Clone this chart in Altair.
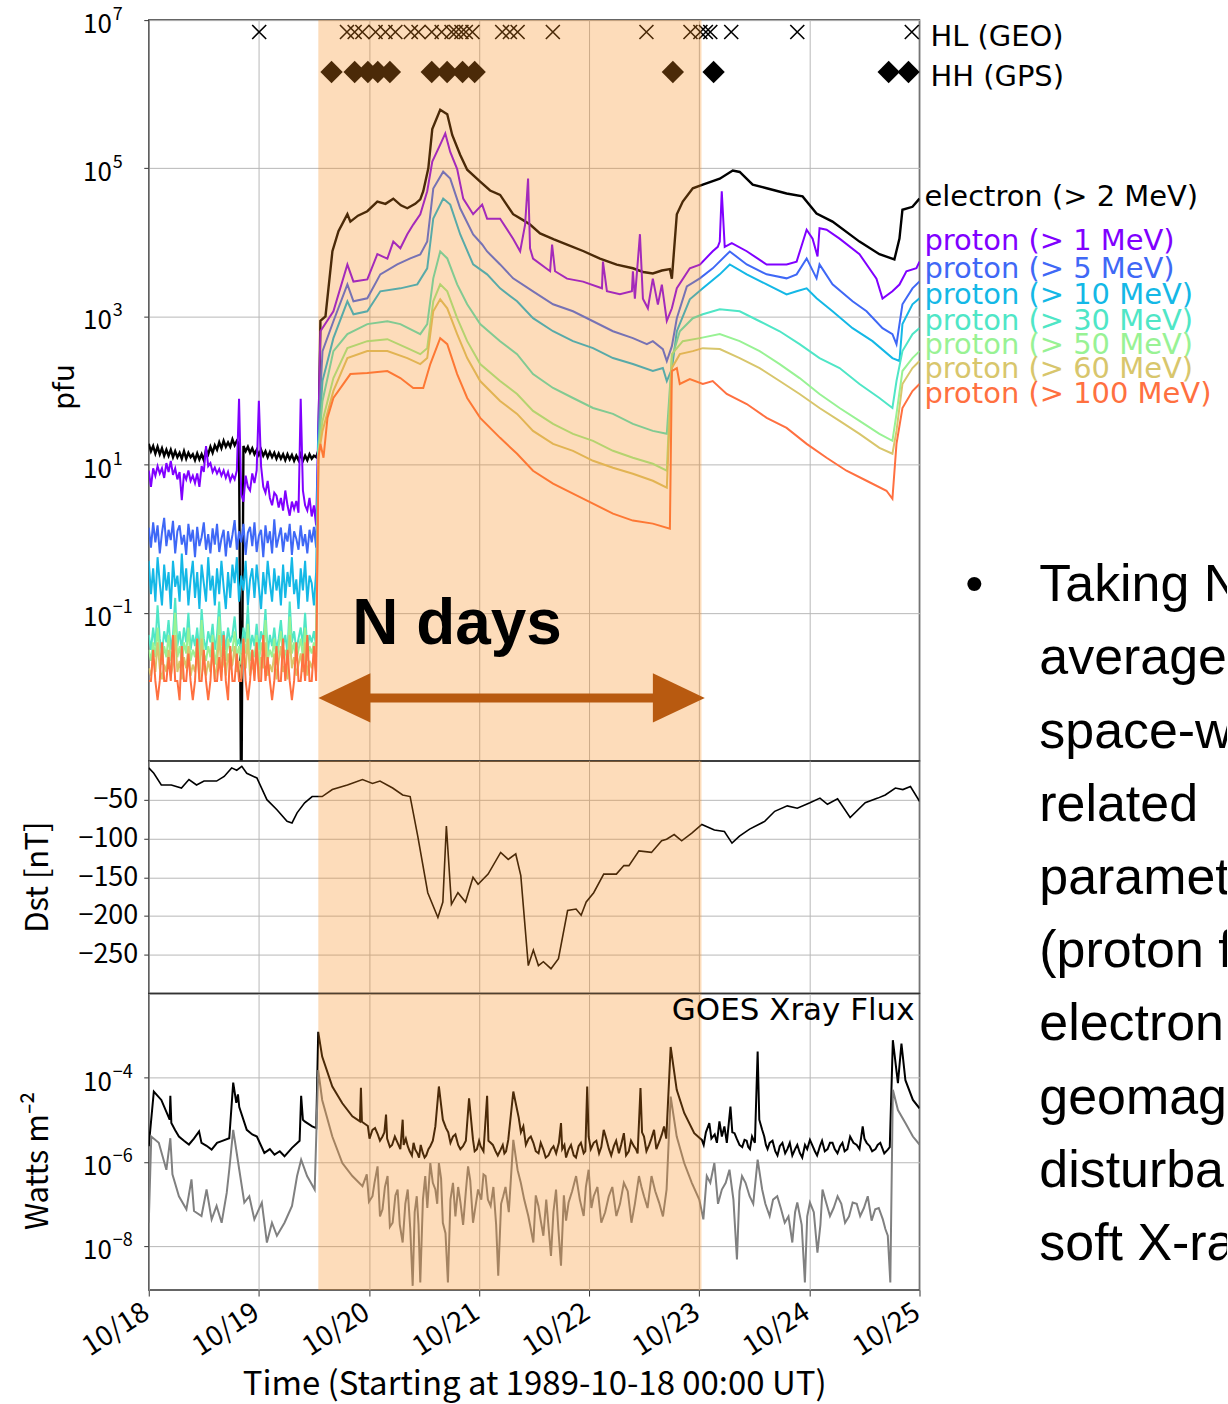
import altair as alt
import pandas as pd

# ----------------------------------------------------------------------
# Time base: days since 1989-10-18 00:00 UT
# ----------------------------------------------------------------------
day_ticks = [0, 1, 2, 3, 4, 5, 6, 7]
day_labels = ["10/18", "10/19", "10/20", "10/21", "10/22", "10/23", "10/24", "10/25"]
window_days = [1.54, 5.02]          # highlighted N-day interval
arrow_tips = [1.541, 5.05]          # ends of the double arrow
arrow_shaft = [2.0, 4.6]
arrow_level = -2.15                 # log10(pfu)
ndays_anchor = [2.8, -1.17]         # day, log10(pfu)

# ----------------------------------------------------------------------
# Particle fluxes, log10(pfu)
# ----------------------------------------------------------------------
quiet_days = [0.00, 0.02, 0.04, 0.06, 0.08, 0.10, 0.12, 0.14, 0.16, 0.18,
              0.20, 0.22, 0.24, 0.26, 0.28, 0.30, 0.32, 0.34, 0.36, 0.38,
              0.40, 0.42, 0.44, 0.46, 0.48, 0.50, 0.52, 0.54, 0.56, 0.58,
              0.60, 0.62, 0.64, 0.66, 0.68, 0.70, 0.72, 0.74, 0.76, 0.78,
              0.80, 0.82, 0.84, 0.86, 0.88, 0.90, 0.92, 0.94, 0.96, 0.98,
              1.00, 1.02, 1.04, 1.06, 1.08, 1.10, 1.12, 1.14, 1.16, 1.18,
              1.20, 1.22, 1.24, 1.26, 1.28, 1.30, 1.32, 1.34, 1.36, 1.38,
              1.40, 1.42, 1.44, 1.46, 1.48, 1.50, 1.52]

electron_quiet = [1.28, 1.18, 1.25, 1.15, 1.24, 1.14, 1.22, 1.12, 1.20, 1.12,
                  1.20, 1.10, 1.18, 1.10, 1.16, 1.08, 1.18, 1.08, 1.16, 1.10,
                  1.14, 1.06, 1.15, 1.07, 1.14, 1.06, 1.20, 1.14, 1.24, 1.16,
                  1.26, 1.20, 1.30, 1.22, 1.32, 1.24, 1.30, 1.24, 1.34, 1.26,
                  1.32, 1.28, -4.00, 1.25, 1.18, 1.24, 1.16, 1.22, 1.14, 1.20,
                  1.13, 1.20, 1.12, 1.18, 1.10, 1.17, 1.10, 1.16, 1.08, 1.15,
                  1.08, 1.14, 1.06, 1.14, 1.07, 1.13, 1.05, 1.12, 1.06, 1.14,
                  1.05, 1.12, 1.06, 1.14, 1.08, 1.12, 1.10]
electron_event = [
    (1.541, 1.19), (1.559, 2.94), (1.605, 3.00), (1.668, 3.88), (1.723, 4.15), (1.804, 4.38),
    (1.831, 4.28), (1.900, 4.36), (1.985, 4.42), (2.076, 4.55), (2.150, 4.52), (2.221, 4.59),
    (2.290, 4.50), (2.348, 4.46), (2.420, 4.52), (2.466, 4.58), (2.493, 4.69), (2.539, 5.00),
    (2.575, 5.53), (2.647, 5.79), (2.711, 5.73), (2.756, 5.45), (2.829, 5.18), (2.892, 4.98),
    (3.010, 4.82), (3.100, 4.70), (3.191, 4.64), (3.309, 4.38), (3.400, 4.30), (3.463, 4.24),
    (3.554, 4.12), (3.680, 4.04), (3.799, 3.97), (3.950, 3.88), (4.098, 3.78), (4.250, 3.70),
    (4.397, 3.65), (4.490, 3.60), (4.578, 3.58), (4.660, 3.62), (4.733, 3.64), (4.751, 3.51),
    (4.796, 4.38), (4.850, 4.55), (4.941, 4.73), (5.032, 4.78), (5.186, 4.86), (5.304, 4.97),
    (5.367, 4.95), (5.485, 4.78), (5.612, 4.73), (5.793, 4.66), (5.938, 4.62), (6.065, 4.39),
    (6.210, 4.28), (6.455, 4.01), (6.636, 3.84), (6.772, 3.77), (6.818, 4.05), (6.845, 4.44),
    (6.936, 4.48), (7.000, 4.59)]

proton_1_quiet = [0.92, 0.70, 0.95, 0.85, 0.98, 0.88, 0.95, 0.82, 1.02, 0.90,
                  1.05, 0.86, 0.95, 0.80, 0.90, 0.52, 0.88, 0.80, 0.92, 0.78,
                  0.85, 0.75, 0.88, 0.70, 0.98, 0.90, 1.25, 0.98, 1.02, 0.90,
                  0.96, 0.88, 0.94, 0.85, 0.92, 0.82, 0.90, 0.78, 0.86, 0.80,
                  0.92, 1.89, 0.60, 0.50, 0.85, 0.70, 0.65, 0.88, 0.75, 0.92,
                  1.86, 0.98, 0.70, 0.62, 0.78, 0.55, 0.45, 0.62, 0.58, 0.42,
                  0.55, 0.38, 0.65, 0.45, 0.31, 0.50, 0.40, 0.51, 0.35, 1.89,
                  0.65, 0.45, 0.38, 0.55, 0.30, 0.45, 0.18]
proton_1_event = [
    (1.541, 1.55), (1.559, 2.80), (1.677, 3.07), (1.804, 3.70), (1.859, 3.47), (1.985, 3.50),
    (2.076, 3.84), (2.167, 3.78), (2.221, 4.01), (2.285, 3.92), (2.348, 4.11), (2.402, 4.24),
    (2.466, 4.38), (2.529, 4.69), (2.575, 5.09), (2.647, 5.32), (2.693, 5.47), (2.738, 5.22),
    (2.801, 4.99), (2.856, 4.59), (2.946, 4.38), (3.028, 4.51), (3.073, 4.32), (3.191, 4.32),
    (3.309, 4.05), (3.373, 3.88), (3.418, 4.24), (3.445, 4.86), (3.463, 3.92), (3.490, 3.78),
    (3.645, 3.61), (3.663, 3.97), (3.690, 3.61), (3.799, 3.51), (3.944, 3.47), (4.116, 3.38),
    (4.125, 3.74), (4.161, 3.34), (4.279, 3.30), (4.388, 3.34), (4.397, 3.61), (4.415, 3.24),
    (4.461, 4.11), (4.488, 3.24), (4.533, 3.11), (4.578, 3.51), (4.624, 3.16), (4.660, 3.43),
    (4.705, 2.94), (4.751, 3.11), (4.796, 3.38), (4.914, 3.65), (5.005, 3.70), (5.122, 3.88),
    (5.168, 3.94), (5.186, 4.01), (5.204, 4.69), (5.231, 3.94), (5.295, 3.99), (5.431, 3.88),
    (5.612, 3.70), (5.793, 3.70), (5.884, 3.74), (5.975, 4.17), (6.029, 4.05), (6.074, 3.81),
    (6.092, 4.19), (6.156, 4.17), (6.274, 4.05), (6.455, 3.84), (6.609, 3.51), (6.664, 3.24),
    (6.754, 3.34), (6.818, 3.43), (6.881, 3.61), (6.972, 3.65), (7.000, 3.74)]

proton_5_quiet = [0.15, -0.12, 0.22, -0.05, 0.18, -0.20, 0.08, 0.28, -0.10, 0.12,
                  -0.02, 0.24, -0.20, 0.10, 0.18, -0.08, 0.05, -0.22, 0.20, -0.04,
                  0.12, -0.25, 0.16, -0.10, 0.02, 0.22, -0.15, 0.06, -0.20, 0.14,
                  -0.08, 0.20, -0.18, 0.00, 0.12, -0.24, 0.10, -0.12, 0.05, 0.25,
                  -0.15, 0.10, -0.05, 0.20, -0.22, 0.08, 0.16, -0.10, 0.22, -0.18,
                  0.04, 0.12, -0.25, 0.18, -0.06, 0.10, -0.20, 0.26, -0.12, 0.02,
                  0.15, -0.18, 0.08, -0.04, 0.20, -0.22, 0.10, 0.00, -0.15, 0.18,
                  -0.10, 0.06, -0.20, 0.12, -0.05, 0.16, -0.12]
proton_5_event = [
    (1.541, 1.455), (1.578, 2.53), (1.677, 2.935), (1.804, 3.433), (1.859, 3.204), (1.985, 3.245),
    (2.103, 3.568), (2.257, 3.702), (2.375, 3.783), (2.466, 3.837), (2.529, 4.012), (2.584, 4.726),
    (2.674, 4.954), (2.738, 4.86), (2.829, 4.456), (2.946, 4.106), (3.028, 3.971), (3.073, 3.877),
    (3.191, 3.702), (3.309, 3.514), (3.490, 3.339), (3.672, 3.164), (3.853, 3.07), (4.035, 2.935),
    (4.216, 2.80), (4.397, 2.707), (4.524, 2.626), (4.578, 2.666), (4.669, 2.559), (4.705, 2.398),
    (4.751, 2.599), (4.796, 2.976), (4.887, 3.406), (5.005, 3.514), (5.122, 3.649), (5.277, 3.877),
    (5.431, 3.702), (5.612, 3.568), (5.793, 3.514), (5.884, 3.568), (5.975, 3.783), (6.065, 3.514),
    (6.092, 3.702), (6.210, 3.433), (6.392, 3.204), (6.519, 3.07), (6.664, 2.841), (6.754, 2.761),
    (6.791, 2.626), (6.845, 3.164), (6.936, 3.379), (7.000, 3.473)]

proton_10_quiet = [-0.30, -0.75, -0.40, -0.85, -0.25, -0.60, -0.90, -0.35, -0.70, -0.45,
                   -0.95, -0.30, -0.65, -0.50, -0.85, -0.20, -0.70, -0.40, -0.90, -0.55,
                   -0.30, -0.80, -0.45, -0.95, -0.35, -0.60, -0.85, -0.25, -0.70, -0.50,
                   -0.90, -0.40, -0.75, -0.30, -0.65, -0.95, -0.45, -0.80, -0.35, -0.60,
                   -0.25, -0.85, -0.50, -0.70, -0.30, -0.90, -0.55, -0.40, -0.80, -0.35,
                   -0.65, -0.95, -0.45, -0.75, -0.30, -0.60, -0.85, -0.40, -0.70, -0.50,
                   -0.90, -0.35, -0.80, -0.45, -0.65, -0.25, -0.75, -0.55, -0.95, -0.40,
                   -0.70, -0.30, -0.85, -0.50, -0.60, -0.90, -0.45]
proton_10_event = [
    (1.541, 1.32), (1.578, 2.13), (1.677, 2.707), (1.804, 3.204), (1.859, 3.029), (1.985, 3.07),
    (2.103, 3.339), (2.285, 3.379), (2.439, 3.433), (2.529, 3.649), (2.584, 4.322), (2.674, 4.591),
    (2.738, 4.51), (2.829, 4.106), (2.946, 3.702), (3.073, 3.568), (3.191, 3.379), (3.345, 3.204),
    (3.490, 2.976), (3.672, 2.80), (3.853, 2.666), (4.035, 2.572), (4.216, 2.438), (4.397, 2.357),
    (4.578, 2.263), (4.669, 2.303), (4.705, 2.128), (4.751, 2.29), (4.796, 2.80), (4.914, 3.231),
    (5.032, 3.379), (5.186, 3.568), (5.277, 3.702), (5.431, 3.568), (5.612, 3.433), (5.793, 3.298),
    (5.884, 3.339), (5.975, 3.379), (6.065, 3.245), (6.210, 3.07), (6.392, 2.841), (6.573, 2.666),
    (6.754, 2.438), (6.818, 2.398), (6.845, 2.896), (6.936, 3.164), (7.000, 3.245)]

proton_30_quiet = [-1.30, -1.50, -1.20, -1.45, -0.90, -1.35, -1.55, -1.25, -1.40, -1.10,
                   -1.50, -1.30, -0.80, -1.45, -1.25, -1.50, -1.20, -1.40, -1.00, -1.50,
                   -1.30, -1.45, -1.20, -1.55, -0.95, -1.35, -1.50, -1.25, -1.40, -1.15,
                   -1.50, -1.30, -0.85, -1.45, -1.25, -1.50, -1.20, -1.40, -1.30, -1.05,
                   -1.45, -1.35, -1.55, -1.20, -1.40, -0.90, -1.50, -1.30, -1.45, -1.15,
                   -1.50, -1.25, -1.40, -0.95, -1.55, -1.30, -1.45, -1.20, -1.50, -1.35,
                   -1.10, -1.45, -1.30, -1.55, -0.85, -1.40, -1.25, -1.50, -1.35, -1.20,
                   -1.45, -1.00, -1.50, -1.30, -1.40, -1.25, -1.45]
proton_30_event = [
    (1.541, 1.253), (1.578, 1.859), (1.677, 2.532), (1.804, 2.761), (1.985, 2.896), (2.167, 2.935),
    (2.285, 2.896), (2.466, 2.761), (2.529, 2.896), (2.584, 3.514), (2.647, 3.877), (2.711, 3.783),
    (2.801, 3.433), (2.892, 3.164), (3.010, 2.896), (3.191, 2.666), (3.345, 2.491), (3.490, 2.222),
    (3.672, 2.034), (3.853, 1.899), (4.035, 1.764), (4.216, 1.684), (4.397, 1.549), (4.578, 1.455),
    (4.705, 1.415), (4.751, 2.438), (4.823, 2.80), (4.941, 2.976), (5.032, 3.029), (5.186, 3.097),
    (5.367, 3.07), (5.548, 2.935), (5.730, 2.80), (5.911, 2.626), (6.092, 2.438), (6.274, 2.303),
    (6.455, 2.088), (6.636, 1.899), (6.754, 1.764), (6.791, 2.128), (6.845, 2.532), (6.936, 2.761),
    (7.000, 2.842)]

proton_50_quiet = [-1.50, -1.65, -1.40, -1.60, -1.20, -1.55, -1.70, -1.45, -1.60, -1.30,
                   -1.65, -1.50, -1.00, -1.60, -1.45, -1.70, -1.40, -1.55, -1.20, -1.65,
                   -1.50, -1.60, -1.35, -1.70, -1.10, -1.55, -1.65, -1.45, -1.60, -1.30,
                   -1.70, -1.50, -1.05, -1.60, -1.40, -1.65, -1.35, -1.55, -1.50, -1.25,
                   -1.60, -1.45, -1.70, -1.35, -1.55, -1.15, -1.65, -1.50, -1.60, -1.30,
                   -1.70, -1.40, -1.55, -1.10, -1.65, -1.50, -1.60, -1.35, -1.70, -1.45,
                   -1.25, -1.60, -1.50, -1.70, -1.05, -1.55, -1.40, -1.65, -1.50, -1.35,
                   -1.60, -1.20, -1.65, -1.45, -1.55, -1.40, -1.60]
proton_50_event = [
    (1.541, 1.186), (1.578, 1.59), (1.677, 2.168), (1.804, 2.572), (1.985, 2.666), (2.167, 2.693),
    (2.348, 2.572), (2.466, 2.491), (2.529, 2.572), (2.584, 3.204), (2.647, 3.433), (2.711, 3.339),
    (2.801, 2.976), (2.892, 2.666), (3.010, 2.357), (3.191, 2.128), (3.345, 1.953), (3.490, 1.724),
    (3.672, 1.549), (3.853, 1.415), (4.035, 1.321), (4.216, 1.186), (4.397, 1.092), (4.578, 1.011),
    (4.705, 0.917), (4.751, 2.491), (4.850, 2.666), (5.005, 2.707), (5.186, 2.761), (5.367, 2.666),
    (5.548, 2.532), (5.730, 2.357), (5.911, 2.168), (6.092, 1.953), (6.274, 1.764), (6.455, 1.59),
    (6.636, 1.415), (6.754, 1.321), (6.791, 1.684), (6.845, 2.263), (6.936, 2.438), (7.000, 2.532)]

proton_60_quiet = [-1.75, -1.85, -1.60, -1.80, -1.40, -1.75, -1.90, -1.70, -1.80, -1.50,
                   -1.85, -1.70, -1.30, -1.80, -1.65, -1.90, -1.60, -1.75, -1.45, -1.85,
                   -1.70, -1.80, -1.55, -1.90, -1.35, -1.75, -1.85, -1.65, -1.80, -1.50,
                   -1.90, -1.70, -1.30, -1.80, -1.60, -1.85, -1.55, -1.75, -1.70, -1.45,
                   -1.80, -1.65, -1.90, -1.55, -1.75, -1.35, -1.85, -1.70, -1.80, -1.50,
                   -1.90, -1.60, -1.75, -1.40, -1.85, -1.70, -1.80, -1.55, -1.90, -1.65,
                   -1.45, -1.80, -1.70, -1.90, -1.30, -1.75, -1.60, -1.85, -1.70, -1.55,
                   -1.80, -1.40, -1.85, -1.65, -1.75, -1.60, -1.80]
proton_60_event = [
    (1.541, 1.119), (1.578, 1.455), (1.677, 1.995), (1.804, 2.438), (1.985, 2.532), (2.167, 2.532),
    (2.348, 2.438), (2.466, 2.357), (2.529, 2.438), (2.584, 3.07), (2.647, 3.231), (2.711, 3.11),
    (2.801, 2.761), (2.892, 2.438), (3.010, 2.128), (3.191, 1.859), (3.345, 1.684), (3.490, 1.455),
    (3.672, 1.28), (3.853, 1.186), (4.035, 1.051), (4.216, 0.957), (4.397, 0.876), (4.578, 0.782),
    (4.705, 0.688), (4.751, 2.303), (4.823, 2.491), (4.941, 2.532), (5.032, 2.572), (5.186, 2.559),
    (5.367, 2.438), (5.548, 2.303), (5.730, 2.128), (5.911, 1.953), (6.092, 1.764), (6.274, 1.59),
    (6.455, 1.415), (6.636, 1.226), (6.754, 1.146), (6.791, 1.455), (6.845, 2.088), (6.936, 2.303),
    (7.000, 2.398)]

proton_100_quiet = [-1.92, -1.92, -1.50, -1.92, -2.18, -1.92, -1.40, -1.92, -1.92, -1.60,
                    -1.92, -1.30, -1.92, -1.92, -2.18, -1.45, -1.92, -1.92, -1.55, -1.92,
                    -2.18, -1.92, -1.35, -1.92, -1.92, -1.50, -1.92, -2.18, -1.92, -1.40,
                    -1.92, -1.92, -1.60, -1.92, -1.30, -1.92, -2.18, -1.45, -1.92, -1.92,
                    -1.55, -1.92, -1.92, -1.35, -1.92, -2.18, -1.92, -1.50, -1.92, -1.40,
                    -1.92, -1.92, -1.30, -1.92, -1.60, -1.92, -2.18, -1.92, -1.45, -1.92,
                    -1.92, -1.35, -1.92, -1.50, -1.92, -2.18, -1.92, -1.40, -1.92, -1.92,
                    -1.55, -1.92, -1.30, -1.92, -1.92, -1.45, -1.92]
proton_100_event = [
    (1.541, 1.092), (1.559, 1.28), (1.587, 1.092), (1.623, 1.63), (1.677, 1.899), (1.831, 2.222),
    (1.985, 2.236), (2.167, 2.263), (2.285, 2.168), (2.402, 2.034), (2.493, 2.034), (2.557, 2.357),
    (2.647, 2.707), (2.711, 2.626), (2.801, 2.222), (2.892, 1.899), (3.010, 1.63), (3.191, 1.361),
    (3.345, 1.146), (3.490, 0.917), (3.672, 0.742), (3.853, 0.607), (4.035, 0.473), (4.216, 0.338),
    (4.397, 0.244), (4.578, 0.203), (4.733, 0.136), (4.751, 2.263), (4.796, 2.303), (4.823, 2.088),
    (4.914, 2.155), (5.032, 2.088), (5.122, 2.128), (5.249, 1.953), (5.431, 1.818), (5.612, 1.63),
    (5.793, 1.495), (5.975, 1.28), (6.156, 1.092), (6.337, 0.917), (6.519, 0.782), (6.700, 0.647),
    (6.754, 0.539), (6.791, 1.28), (6.845, 1.764), (6.936, 1.992), (7.000, 2.088)]

series_names = ["electron (> 2 MeV)", "proton (> 1 MeV)", "proton (> 5 MeV)",
                "proton (> 10 MeV)", "proton (> 30 MeV)", "proton (> 50 MeV)",
                "proton (> 60 MeV)", "proton (> 100 MeV)"]
series_colors = ["#000000", "#8000ff", "#3f68f6", "#14b8e6", "#4fe6c6",
                 "#98f294", "#d8c66c", "#ff7040"]
label_levels = [4.618, 4.012, 3.635, 3.285, 2.935, 2.612, 2.289, 1.953]  # log10(pfu)

# Alert markers (days)
hl_geo_days = [1.003, 1.80, 1.87, 1.94, 2.06, 2.15, 2.24, 2.38, 2.45, 2.57, 2.66, 2.75,
               2.79, 2.84, 2.88, 2.94, 3.21, 3.28, 3.35, 3.67, 4.52, 4.92, 5.01, 5.06,
               5.10, 5.29, 5.89, 6.93]
hh_gps_days = [1.66, 1.87, 1.99, 2.08, 2.19, 2.57, 2.71, 2.85, 2.96, 4.76, 5.13, 6.72, 6.90]
marker_levels = [6.84, 6.30]
marker_names = ["HL (GEO)", "HH (GPS)"]
marker_label_levels = [6.771, 6.233]

# ----------------------------------------------------------------------
# Dst index [nT]
# ----------------------------------------------------------------------
dst = [
    (0.000, -9), (0.046, -16), (0.114, -31), (0.205, -31), (0.297, -35), (0.365, -24),
    (0.434, -31), (0.502, -26), (0.616, -26), (0.685, -20), (0.753, -9), (0.799, -12),
    (0.845, -7), (0.890, -16), (0.982, -22), (1.073, -50), (1.164, -63), (1.256, -78),
    (1.301, -80), (1.347, -67), (1.416, -54), (1.484, -46), (1.575, -46), (1.667, -37),
    (1.804, -31), (1.941, -24), (2.032, -29), (2.100, -26), (2.215, -35), (2.306, -44),
    (2.374, -46), (2.443, -97), (2.534, -170), (2.626, -202), (2.671, -182), (2.703, -84),
    (2.749, -185), (2.808, -170), (2.877, -182), (2.945, -150), (2.991, -159), (3.082, -146),
    (3.196, -118), (3.265, -127), (3.333, -120), (3.379, -148), (3.447, -264), (3.493, -244),
    (3.539, -264), (3.584, -259), (3.653, -268), (3.721, -255), (3.804, -193), (3.881, -191),
    (3.927, -199), (3.973, -182), (4.041, -170), (4.132, -146), (4.247, -146), (4.315, -135),
    (4.361, -135), (4.452, -116), (4.566, -118), (4.658, -103), (4.703, -101), (4.772, -95),
    (4.840, -103), (4.932, -93), (5.023, -82), (5.137, -89), (5.228, -91), (5.297, -106),
    (5.365, -97), (5.457, -88), (5.594, -78), (5.685, -65), (5.799, -58), (5.890, -61),
    (6.005, -54), (6.096, -48), (6.164, -56), (6.256, -49), (6.370, -73), (6.507, -54),
    (6.621, -48), (6.689, -44), (6.781, -35), (6.849, -37), (6.918, -33), (7.000, -52)]

# ----------------------------------------------------------------------
# GOES X-ray flux, log10(W m^-2): long (black) and short (grey) channels
# ----------------------------------------------------------------------
xray_long = [
    (0.000, -5.63), (0.046, -4.33), (0.114, -4.53), (0.190, -5.00), (0.196, -4.43), (0.205, -5.08),
    (0.240, -5.25), (0.274, -5.40), (0.320, -5.50), (0.365, -5.59), (0.410, -5.45), (0.457, -5.28),
    (0.479, -5.55), (0.525, -5.62), (0.571, -5.71), (0.620, -5.55), (0.662, -5.51), (0.731, -5.44),
    (0.767, -4.12), (0.795, -4.60), (0.810, -4.40), (0.822, -4.70), (0.890, -5.24), (0.940, -5.35),
    (0.982, -5.40), (1.050, -5.79), (1.100, -5.70), (1.142, -5.83), (1.190, -5.75), (1.233, -5.87),
    (1.301, -5.67), (1.370, -5.50), (1.384, -4.43), (1.400, -5.00), (1.416, -5.04), (1.484, -5.16),
    (1.521, -5.20), (1.539, -2.91), (1.575, -3.50), (1.667, -4.21), (1.758, -4.61), (1.849, -4.92),
    (1.918, -5.04), (1.927, -4.24), (1.936, -5.05), (1.990, -5.15), (2.032, -5.24), (2.080, -5.35),
    (2.123, -5.40), (2.155, -4.88), (2.165, -5.45), (2.210, -5.60), (2.260, -5.55), (2.306, -5.00),
    (2.315, -5.60), (2.352, -5.63), (2.390, -5.85), (2.420, -5.71), (2.455, -5.90), (2.489, -5.79),
    (2.520, -5.85), (2.557, -5.63), (2.603, -5.16), (2.635, -4.21), (2.671, -5.00), (2.720, -5.30),
    (2.763, -5.40), (2.810, -5.60), (2.854, -5.63), (2.909, -4.49), (2.945, -5.48), (2.980, -5.70),
    (3.014, -5.63), (3.073, -4.43), (3.085, -5.50), (3.105, -5.55), (3.150, -5.75), (3.196, -5.71),
    (3.230, -5.80), (3.265, -5.48), (3.311, -4.33), (3.360, -4.95), (3.402, -5.16), (3.450, -5.45),
    (3.493, -5.55), (3.540, -5.80), (3.584, -5.71), (3.630, -5.85), (3.676, -5.63), (3.744, -5.08),
    (3.755, -5.70), (3.790, -5.90), (3.813, -5.71), (3.860, -5.85), (3.904, -5.63), (3.950, -5.80),
    (3.982, -4.21), (3.995, -5.40), (4.041, -5.55), (4.090, -5.80), (4.132, -5.24), (4.180, -5.70),
    (4.224, -5.63), (4.270, -5.80), (4.315, -5.32), (4.360, -5.75), (4.406, -5.63), (4.440, -5.80),
    (4.466, -4.25), (4.480, -5.30), (4.498, -5.40), (4.545, -5.60), (4.589, -5.24), (4.640, -5.50),
    (4.680, -5.16), (4.740, -3.27), (4.795, -4.29), (4.863, -4.84), (4.954, -5.32), (5.023, -5.48),
    (5.060, -5.30), (5.091, -5.08), (5.140, -5.35), (5.183, -5.04), (5.228, -5.16), (5.283, -4.69),
    (5.300, -5.30), (5.320, -5.32), (5.365, -5.60), (5.411, -5.48), (5.445, -5.65), (5.479, -5.40),
    (5.530, -3.38), (5.545, -5.00), (5.571, -5.24), (5.605, -5.60), (5.639, -5.55), (5.690, -5.75),
    (5.731, -5.63), (5.780, -5.80), (5.822, -5.55), (5.870, -5.70), (5.913, -5.79), (5.960, -5.60),
    (6.005, -5.48), (6.050, -5.75), (6.096, -5.63), (6.140, -5.75), (6.187, -5.55), (6.230, -5.70),
    (6.279, -5.63), (6.320, -5.75), (6.370, -5.40), (6.430, -5.60), (6.484, -5.16), (6.520, -5.55),
    (6.548, -5.63), (6.600, -5.70), (6.644, -5.55), (6.712, -5.71), (6.758, -3.11), (6.804, -4.13),
    (6.836, -3.19), (6.872, -4.06), (6.940, -4.53), (7.000, -4.73)]
xray_long_jitter = [
    (2.005, -5.45), (2.055, -5.20), (2.100, -5.50), (2.140, -5.30), (2.190, -5.65), (2.235, -5.40),
    (2.285, -5.70), (2.335, -5.45), (2.370, -5.75), (2.405, -5.55), (2.440, -5.80), (2.470, -5.60),
    (2.505, -5.90), (2.540, -5.70), (2.580, -5.50), (2.700, -5.20), (2.740, -5.55), (2.785, -5.35),
    (2.830, -5.70), (2.880, -5.50), (2.960, -5.75), (3.000, -5.50), (3.040, -5.75), (3.125, -5.60),
    (3.170, -5.85), (3.215, -5.60), (3.245, -5.75), (3.380, -5.30), (3.425, -5.60), (3.470, -5.40),
    (3.515, -5.75), (3.560, -5.55), (3.605, -5.90), (3.655, -5.70), (3.700, -5.80), (3.725, -5.55),
    (3.775, -5.60), (3.835, -5.60), (3.880, -5.90), (3.925, -5.55), (3.965, -5.75), (4.015, -5.70),
    (4.065, -5.50), (4.110, -5.65), (4.155, -5.45), (4.200, -5.85), (4.245, -5.50), (4.290, -5.60),
    (4.335, -5.85), (4.380, -5.50), (4.425, -5.70), (4.520, -5.75), (4.565, -5.45), (4.610, -5.70),
    (4.660, -5.35), (4.700, -5.45), (5.040, -5.60), (5.110, -5.45), (5.160, -5.55), (5.205, -5.40),
    (5.250, -5.55), (5.340, -5.45), (5.390, -5.65), (5.430, -5.50), (5.460, -5.70), (5.505, -5.55),
    (5.590, -5.40), (5.620, -5.70), (5.665, -5.50), (5.710, -5.85), (5.755, -5.55), (5.800, -5.70),
    (5.845, -5.85), (5.890, -5.60), (5.935, -5.90), (5.980, -5.70), (6.025, -5.60), (6.070, -5.85),
    (6.115, -5.50), (6.165, -5.70), (6.210, -5.55), (6.255, -5.80), (6.300, -5.55), (6.345, -5.70),
    (6.400, -5.55), (6.455, -5.70), (6.500, -5.45), (6.570, -5.75), (6.620, -5.60), (6.680, -5.80),
    (6.730, -5.65)]

xray_short = [
    (0.000, -7.45), (0.023, -5.40), (0.091, -5.55), (0.160, -6.19), (0.196, -5.44), (0.215, -6.30),
    (0.274, -6.82), (0.342, -7.13), (0.388, -6.42), (0.411, -7.17), (0.479, -7.29), (0.525, -6.66),
    (0.571, -7.37), (0.616, -7.05), (0.662, -7.45), (0.708, -6.74), (0.731, -6.19), (0.767, -5.24),
    (0.822, -6.19), (0.868, -6.97), (0.913, -6.82), (0.959, -7.37), (1.027, -6.97), (1.073, -7.92),
    (1.119, -7.45), (1.164, -7.76), (1.233, -7.45), (1.301, -7.05), (1.347, -6.34), (1.384, -5.95),
    (1.438, -6.34), (1.507, -6.66), (1.539, -3.82), (1.575, -4.53), (1.667, -5.40), (1.758, -6.03),
    (1.849, -6.34), (1.941, -6.58), (2.032, -6.82), (2.078, -6.11), (2.123, -7.13), (2.169, -6.34),
    (2.215, -7.45), (2.260, -6.66), (2.306, -7.92), (2.352, -6.66), (2.397, -8.95), (2.434, -6.82),
    (2.466, -8.87), (2.511, -6.34), (2.557, -6.03), (2.603, -6.66), (2.635, -6.03), (2.671, -7.45),
    (2.717, -8.87), (2.763, -6.50), (2.831, -6.97), (2.900, -6.11), (2.945, -7.45), (2.991, -6.66),
    (3.059, -6.34), (3.105, -7.05), (3.174, -8.71), (3.219, -6.82), (3.311, -5.48), (3.379, -6.50),
    (3.447, -7.29), (3.493, -7.92), (3.539, -7.05), (3.584, -7.76), (3.653, -8.24), (3.699, -6.66),
    (3.744, -8.47), (3.813, -6.97), (3.881, -6.34), (3.950, -7.29), (3.995, -6.19), (4.041, -6.82),
    (4.110, -7.45), (4.178, -6.82), (4.247, -7.29), (4.315, -6.50), (4.384, -7.45), (4.452, -6.34),
    (4.498, -6.82), (4.566, -6.34), (4.635, -6.97), (4.703, -6.66), (4.740, -4.45), (4.795, -5.40),
    (4.863, -6.03), (4.932, -6.50), (5.000, -6.90), (5.037, -7.37), (5.068, -6.34), (5.137, -6.03),
    (5.205, -6.66), (5.274, -6.19), (5.342, -8.32), (5.388, -6.34), (5.457, -6.82), (5.530, -5.95),
    (5.571, -6.66), (5.639, -7.29), (5.708, -6.82), (5.776, -7.45), (5.845, -7.92), (5.890, -6.97),
    (5.959, -8.87), (6.005, -6.97), (6.073, -8.16), (6.119, -6.66), (6.187, -7.29), (6.256, -6.82),
    (6.324, -7.45), (6.393, -6.97), (6.461, -7.29), (6.530, -6.82), (6.598, -7.13), (6.667, -7.37),
    (6.712, -7.76), (6.735, -8.87), (6.758, -4.29), (6.804, -4.77), (6.872, -5.08), (6.940, -5.40),
    (7.000, -5.59)]
xray_short_jitter = [
    (1.980, -6.30), (2.000, -6.95), (2.050, -6.50), (2.100, -7.30), (2.145, -6.60), (2.190, -7.55),
    (2.240, -6.80), (2.280, -7.50), (2.330, -7.00), (2.375, -7.60), (2.415, -7.20), (2.450, -7.50),
    (2.490, -6.90), (2.530, -7.10), (2.580, -6.50), (2.620, -7.00), (2.655, -6.40), (2.695, -7.70),
    (2.740, -6.90), (2.785, -7.30), (2.810, -6.60), (2.855, -7.50), (2.880, -6.70), (2.920, -6.45),
    (2.965, -7.10), (3.020, -6.90), (3.040, -6.30), (3.080, -6.90), (3.130, -6.60), (3.155, -7.50),
    (3.200, -7.00), (3.240, -6.60), (3.270, -7.20), (3.350, -6.20), (3.410, -6.90), (3.470, -7.60),
    (3.515, -6.80), (3.560, -7.40), (3.610, -6.90), (3.675, -7.20), (3.720, -7.60), (3.770, -6.80),
    (3.790, -7.40), (3.845, -6.70), (3.915, -6.90), (3.970, -6.60), (4.020, -7.10), (4.075, -6.60),
    (4.145, -7.20), (4.210, -6.60), (4.280, -7.00), (4.350, -6.70), (4.415, -7.00), (4.475, -6.60),
    (4.530, -7.10), (4.600, -6.70), (4.670, -7.30), (5.100, -6.50), (5.170, -7.00), (5.240, -6.50),
    (5.310, -6.90), (5.365, -6.70), (5.420, -6.50), (5.490, -7.00), (5.600, -7.00), (5.670, -6.90),
    (5.740, -7.10), (5.810, -7.30), (5.870, -7.20), (5.930, -7.50), (5.980, -7.30), (6.040, -7.20),
    (6.100, -7.50), (6.150, -6.95), (6.220, -7.10), (6.290, -7.00), (6.360, -7.30), (6.430, -7.00),
    (6.495, -7.10), (6.565, -7.40), (6.630, -7.10), (6.690, -7.60)]

pfu_tick_exps = [-1, 1, 3, 5, 7]
xray_tick_exps = [-4, -6, -8]
dst_ticks = [-50, -100, -150, -200, -250]

bullet_lines = ["Taking N-day", "averages of", "space-weather", "related", "parameters",
                "(proton flux,", "electron flux,", "geomagnetic", "disturbance,",
                "soft X-ray flux)"]

# ----------------------------------------------------------------------
# Helpers
# ----------------------------------------------------------------------
TICK_FONT = "Noto Sans CJK JP"
LABEL_FONT = "DejaVu Sans"
PANEL_W = 772
PANEL_H = [742, 233, 297]


def day_expr():
    expr = "''"
    for d, lab in reversed(list(zip(day_ticks, day_labels))):
        expr = f"(datum.value == {d}) ? '{lab}' : ({expr})"
    return expr


def frame(pairs, log=True):
    df = pd.DataFrame(pairs, columns=["day", "v"]).sort_values("day")
    df["value"] = 10 ** df["v"] if log else df["v"]
    return df


def pow10_labels(exps, y_enc):
    """'10' with a raised exponent, drawn left of the panel at each tick."""
    df = pd.DataFrame({"value": [10.0 ** e for e in exps], "base": "10",
                       "exp": [str(e).replace("-", "−") for e in exps]})
    base = alt.Chart(df).mark_text(align="right", baseline="middle", font=TICK_FONT,
                                   fontSize=26, dy=5, color="black").encode(
        x=alt.value(-37), y=y_enc, text="base:N")
    sup = alt.Chart(df).mark_text(align="left", baseline="middle", font=TICK_FONT,
                                  fontSize=18, dy=-5, color="black").encode(
        x=alt.value(-36), y=y_enc, text="exp:N")
    return [base, sup]


x_scale = alt.Scale(domain=[0, 7], nice=False, zero=False)
x_plain = alt.X("day:Q", scale=x_scale,
                axis=alt.Axis(values=day_ticks, labels=False, ticks=False, domain=False,
                              grid=True, title=None))
x_bottom = alt.X("day:Q", scale=x_scale,
                 axis=alt.Axis(values=day_ticks, labelExpr=day_expr(), labelAngle=327,
                               labelAlign="right", labelBaseline="top", labelPadding=2,
                               labelOffset=-10, labelFontSize=28, tickSize=6, grid=True,
                               domain=False,
                               title="Time (Starting at 1989-10-18 00:00 UT)",
                               titleFontSize=33, titleFontWeight="normal",
                               titleY=105, titleBaseline="alphabetic"))

shade_df = pd.DataFrame({"day": [window_days[0]], "day2": [window_days[1]]})


def shade(x_enc):
    return alt.Chart(shade_df).mark_rect(color="#f78c1b", opacity=0.3).encode(
        x=x_enc, x2="day2:Q")


# ---------------- top panel: particle fluxes ----------------
pfu_scale = alt.Scale(type="log", domain=[1e-3, 1e7], nice=False)
pfu_axis = alt.Axis(values=[10.0 ** e for e in pfu_tick_exps], labels=False,
                    grid=True, tickSize=5, title="pfu", titleFont=LABEL_FONT,
                    titleFontSize=28, titleFontWeight="normal", titleX=-83, titleY=367,
                    titleAngle=270, titleAlign="center", titleBaseline="middle")
y_pfu = alt.Y("value:Q", scale=pfu_scale, axis=pfu_axis)

all_series = [
    list(zip(quiet_days, electron_quiet)) + electron_event,
    list(zip(quiet_days, proton_1_quiet)) + proton_1_event,
    list(zip(quiet_days, proton_5_quiet)) + proton_5_event,
    list(zip(quiet_days, proton_10_quiet)) + proton_10_event,
    list(zip(quiet_days, proton_30_quiet)) + proton_30_event,
    list(zip(quiet_days, proton_50_quiet)) + proton_50_event,
    list(zip(quiet_days, proton_60_quiet)) + proton_60_event,
    list(zip(quiet_days, proton_100_quiet)) + proton_100_event,
]

top_layers = []
for i, (pairs, color) in enumerate(zip(all_series, series_colors)):
    top_layers.append(
        alt.Chart(frame(pairs)).mark_line(color=color, strokeWidth=2.4 if i == 0 else 2,
                                          clip=True)
        .encode(x=x_plain, y=y_pfu))

x_marker = "M -1 -1 L 1 1 M -1 1 L 1 -1"
hl_df = pd.DataFrame({"day": hl_geo_days, "value": 10 ** marker_levels[0]})
hh_df = pd.DataFrame({"day": hh_gps_days, "value": 10 ** marker_levels[1]})
top_layers.append(
    alt.Chart(hl_df).mark_point(shape=x_marker, size=196, filled=False, color="black",
                                strokeWidth=1.6, opacity=1).encode(x=x_plain, y=y_pfu))
top_layers.append(
    alt.Chart(hh_df).mark_point(shape="diamond", size=500, filled=True, color="black",
                                opacity=1).encode(x=x_plain, y=y_pfu))
top_layers.append(shade(x_plain))
top_layers += pow10_labels(pfu_tick_exps, y_pfu)

series_label_df = pd.DataFrame({"label": series_names, "color": series_colors,
                                "value": [10 ** v for v in label_levels]})
top_layers.append(
    alt.Chart(series_label_df).mark_text(align="left", baseline="middle", font=LABEL_FONT,
                                         fontSize=29).encode(
        x=alt.value(777), y=y_pfu, text="label:N", color=alt.Color("color:N", scale=None)))
marker_label_df = pd.DataFrame({"label": marker_names,
                                "value": [10 ** v for v in marker_label_levels]})
top_layers.append(
    alt.Chart(marker_label_df).mark_text(align="left", baseline="middle", font=LABEL_FONT,
                                         fontSize=29, color="black").encode(
        x=alt.value(783), y=y_pfu, text="label:N"))

# N-day arrow and caption
arrow_color = "#b85a10"
shaft_df = pd.DataFrame({"day": [arrow_shaft[0]], "day2": [arrow_shaft[1]],
                         "value": [10 ** arrow_level]})
top_layers.append(
    alt.Chart(shaft_df).mark_rule(color=arrow_color, strokeWidth=9).encode(
        x=x_plain, x2="day2:Q", y=y_pfu))
left_tip = pd.DataFrame({"day": [arrow_tips[0]], "value": [10 ** arrow_level]})
right_tip = pd.DataFrame({"day": [arrow_tips[1]], "value": [10 ** arrow_level]})
top_layers.append(
    alt.Chart(left_tip).mark_point(shape="M 0 0 L 2 -0.95 L 2 0.95 Z", size=2704, filled=True,
                                   color=arrow_color, opacity=1).encode(x=x_plain, y=y_pfu))
top_layers.append(
    alt.Chart(right_tip).mark_point(shape="M 0 0 L -2 -0.95 L -2 0.95 Z", size=2704,
                                    filled=True, color=arrow_color, opacity=1)
    .encode(x=x_plain, y=y_pfu))
ndays_df = pd.DataFrame({"day": [ndays_anchor[0]], "value": [10 ** ndays_anchor[1]],
                         "label": ["N days"]})
top_layers.append(
    alt.Chart(ndays_df).mark_text(font="Liberation Sans", fontWeight="bold", fontSize=64,
                                  color="black", baseline="middle", align="center").encode(
        x=x_plain, y=y_pfu, text="label:N"))

top = alt.layer(*top_layers).properties(width=PANEL_W, height=PANEL_H[0])

# ---------------- middle panel: Dst ----------------
dst_axis = alt.Axis(values=dst_ticks, labelExpr="'−' + abs(datum.value)", labelFontSize=27,
                    grid=True, tickSize=5, labelPadding=6, title="Dst [nT]",
                    titleFontSize=31, titleFontWeight="normal", titleX=-110, titleY=116,
                    titleAngle=270, titleAlign="center", titleBaseline="middle")
y_dst = alt.Y("value:Q", scale=alt.Scale(domain=[-300, 0], nice=False, zero=False), axis=dst_axis)
mid = alt.layer(
    alt.Chart(frame(dst, log=False)).mark_line(color="black", strokeWidth=1.6, clip=True)
    .encode(x=x_plain, y=y_dst),
    shade(x_plain),
).properties(width=PANEL_W, height=PANEL_H[1])

# ---------------- bottom panel: X-ray flux ----------------
xr_axis = alt.Axis(values=[10.0 ** e for e in xray_tick_exps], labels=False,
                   grid=True, tickSize=5, title="Watts m⁻²",
                   titleFontSize=31, titleFontWeight="normal", titleX=-110, titleY=167,
                   titleAngle=270, titleAlign="center", titleBaseline="middle")
y_xr = alt.Y("value:Q", scale=alt.Scale(type="log", domain=[10 ** -9.05, 1e-2], nice=False),
             axis=xr_axis)
bot = alt.layer(
    alt.Chart(frame(xray_long + xray_long_jitter)).mark_line(color="black", strokeWidth=2,
                                                             clip=True)
    .encode(x=x_bottom, y=y_xr),
    alt.Chart(frame(xray_short + xray_short_jitter)).mark_line(color="#808080", strokeWidth=2,
                                                               clip=True)
    .encode(x=x_bottom, y=y_xr),
    shade(x_bottom),
    *pow10_labels(xray_tick_exps, y_xr),
    alt.Chart(pd.DataFrame({"label": ["GOES Xray Flux"]})).mark_text(
        align="right", baseline="middle", font=LABEL_FONT, fontSize=31, color="black")
    .encode(x=alt.value(767), y=alt.value(18), text="label:N"),
).properties(width=PANEL_W, height=PANEL_H[2])

# ---------------- bullet text beside the figure ----------------
lines_df = pd.DataFrame({"line": list(range(len(bullet_lines))), "text": bullet_lines})
line_groups = [[0, 1, 2], [3, 4, 5], [6, 7, 8, 9]]
panel_tops = [0, PANEL_H[0], PANEL_H[0] + PANEL_H[1]]


def notes_cell(k):
    y_line = alt.Y("line:Q", axis=None,
                   scale=alt.Scale(domain=[0, len(bullet_lines) - 1],
                                   range=[582 - panel_tops[k], 1242 - panel_tops[k]],
                                   nice=False, zero=False))
    layers = [
        alt.Chart(lines_df.iloc[line_groups[k]]).mark_text(
            align="left", baseline="alphabetic", font="Liberation Sans", fontSize=52,
            color="black", clip=True)
        .encode(x=alt.value(80), y=y_line, text="text:N")
    ]
    if k == 0:
        layers.append(
            alt.Chart(pd.DataFrame({"line": [0], "text": ["•"]})).mark_text(
                align="center", baseline="alphabetic", font="Liberation Sans", fontSize=52,
                color="black", clip=True)
            .encode(x=alt.value(15), y=y_line, text="text:N"))
    return alt.layer(*layers).properties(
        width=268, height=PANEL_H[k], view=alt.ViewBackground(stroke="transparent"))


chart = alt.concat(
    top, notes_cell(0), mid, notes_cell(1), bot, notes_cell(2),
    columns=2, spacing={"row": 0, "column": 40}, bounds="flush",
).resolve_scale(x="independent", y="independent").configure_view(
    stroke="#333333", strokeWidth=1.5
).configure_axis(
    gridColor="#b8b8b8", gridWidth=1, gridOpacity=1, tickColor="#333333",
    labelColor="black", titleColor="black", labelFont=TICK_FONT, titleFont=TICK_FONT,
    labelFontSize=24
).properties(padding={"left": 22, "top": 4, "right": 0, "bottom": 0})

chart.save("out.html", embed_options={"renderer": "svg", "actions": False})
